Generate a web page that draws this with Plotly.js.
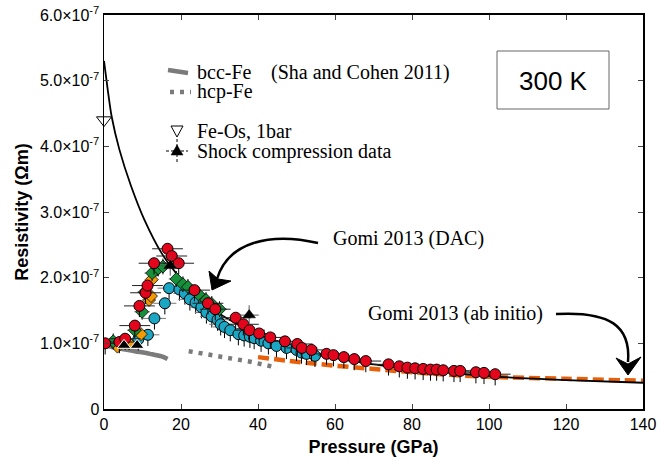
<!DOCTYPE html>
<html><head><meta charset="utf-8">
<script src="https://cdn.plot.ly/plotly-3.0.1.min.js"></script>
<style>html,body{margin:0;padding:0;background:#fff}#chart{width:658px;height:461px}</style>
</head><body><div id="chart"></div>
<script>
// Resistivity values in units of 1e-7 Ohm m, pressure in GPa
const redP = [0.3,4,5.5,8,9.2,10.8,11.3,13,16.5,17.6,19.4,23.5,27,28.9,34.2,36.2,37.8,40.3,43.2,47,50.2,51.4,53.9,57.8,59.6,62.3,65,68,73.9,76.7,78.8,80.8,82.9,84.8,86.4,88.1,90.9,92.5,96.6,98.7,101.6];
const redR = [1.0,1.02,1.07,1.27,1.57,1.77,1.88,2.22,2.44,2.33,2.22,1.81,1.61,1.52,1.39,1.29,1.2,1.15,1.09,1.03,0.99,0.93,0.9,0.84,0.82,0.79,0.76,0.73,0.68,0.65,0.63,0.62,0.61,0.6,0.6,0.59,0.58,0.58,0.56,0.55,0.53];
const cyanP = [8.9,11.4,13.1,15.8,16.9,19.6,21,22.3,23.8,25.3,26.6,28,29.5,30.3,31.3,32.8,34.9,36.4,37.9,39,40.8,42.7,44.8,47.4,50,51.3,52.6,54.8];
const cyanR = [1.06,1.13,1.38,1.61,1.84,1.82,1.76,1.67,1.62,1.55,1.47,1.41,1.36,1.29,1.25,1.2,1.14,1.12,1.1,1.08,1.04,1.0,0.96,0.93,0.9,0.86,0.84,0.81];
const greenP = [2.4,8,9.9,10.6,12.5,14.1,15.3,18.8,20.5,21.8,24.5,26.5,28,30];
const greenR = [1.03,1.2,1.48,1.78,2.07,2.14,2.17,1.98,1.9,1.86,1.75,1.66,1.6,1.52];
const orangeP = [3.5,6.5,9.6,11.7,12.2,12.4,13.7];
const orangeR = [0.95,1.0,1.14,1.66,1.72,1.97,2.12];
const shockP = [17.2,37.7];
const shockR = [2.18,1.43];
const lowTriP = [5.2,8.6];
const lowTriR = [0.97,0.97];
const feOsP = [0];
const feOsR = [4.4];
const fitP = [0,1,2,4,7,10.5,15,20,25,30,35,40,50,60,70,80,90,100,120,140];
const fitR = [5.3,4.85,4.45,3.95,3.4,2.88,2.37,1.98,1.68,1.45,1.28,1.13,0.93,0.78,0.68,0.61,0.55,0.50,0.44,0.40];
const abP = [40,50,60,70,80,90,100,120,140];
const abR = [0.79,0.72,0.66,0.61,0.56,0.52,0.49,0.46,0.43];
const bccP = [0,4,8,12,15,16.5];
const bccR = [0.97,0.92,0.88,0.84,0.8,0.76];
const hcpP = [22,30,38,45];
const hcpR = [0.88,0.8,0.72,0.63];
const yTickVals = [0,1,2,3,4,5,6];
const yTickText = ['0','1.0×10<sup>-7</sup>','2.0×10<sup>-7</sup>','3.0×10<sup>-7</sup>','4.0×10<sup>-7</sup>','5.0×10<sup>-7</sup>','6.0×10<sup>-7</sup>'];

// pixel -> paper helpers for decorations (legend, arrows)
const L=104, R=643, T=15, B=409;
const px = x => (x-L)/(R-L);
const py = y => (B-y)/(B-T);
const P = (pts) => pts.map(p=>(px(p[0])+','+py(p[1]))).join(' ');

const serif = 'Liberation Serif, Times New Roman, serif';
const sans = 'Liberation Sans, Arial, sans-serif';

const traces = [
  {x:bccP,y:bccR,mode:'lines',line:{color:'#7b7b7b',width:4.5,shape:'spline'},hoverinfo:'skip'},
  {x:hcpP,y:hcpR,mode:'lines',line:{color:'#7b7b7b',width:4.5,dash:'4px,6px'},hoverinfo:'skip'},
  {x:abP,y:abR,mode:'lines',line:{color:'#e8600c',width:4.5,dash:'11px,5px',shape:'spline'}},
  {x:fitP,y:fitR,mode:'lines',line:{color:'#000',width:1.8,shape:'spline',smoothing:0.8}},
  {x:cyanP,y:cyanR,mode:'markers',marker:{symbol:'circle',size:11,color:'#1ba6c4',line:{color:'#000',width:1}},
   error_y:{type:'data',symmetric:false,array:cyanP.map(()=>0.05),arrayminus:cyanP.map(()=>0.17),color:'#000',thickness:1,width:0},
   error_x:{type:'data',array:cyanP.map(()=>3),color:'#777',thickness:1,width:0}},
  {x:orangeP,y:orangeR,mode:'markers',marker:{symbol:'diamond',size:10,color:'#f39a00',line:{color:'#000',width:0.8}}},
  {x:greenP,y:greenR,mode:'markers',marker:{symbol:'diamond',size:10,color:'#16903a',line:{color:'#000',width:0.8}},
   error_y:{type:'data',array:greenP.map(()=>0.12),color:'#000',thickness:1,width:0},
   error_x:{type:'data',array:greenP.map(()=>2),color:'#777',thickness:1,width:0}},
  {x:redP,y:redR,mode:'markers',marker:{symbol:'circle',size:11,color:'#e3051b',line:{color:'#000',width:1}},
   error_y:{type:'data',symmetric:false,array:redP.map(()=>0.05),arrayminus:redP.map(()=>0.17),color:'#000',thickness:1,width:0},
   error_x:{type:'data',array:redP.map(()=>4),color:'#222',thickness:1,width:0}},
  {x:lowTriP,y:lowTriR,mode:'markers',marker:{symbol:'triangle-up',size:12,color:'#000',line:{color:'#fff',width:1}}},
  {x:shockP,y:shockR,mode:'markers',marker:{symbol:'triangle-up',size:11,color:'#000',line:{color:'#000',width:0.5}},
   error_y:{type:'data',array:[0.15,0.15],color:'#555',thickness:1,width:0},
   error_x:{type:'data',array:[2.5,2.5],color:'#555',thickness:1,width:0}},
  {x:feOsP,y:feOsR,mode:'markers',cliponaxis:false,marker:{symbol:'triangle-down',size:13,color:'#fff',line:{color:'#000',width:1}}}
];

const shapes = [
  // legend samples
  {type:'line',xref:'paper',yref:'paper',x0:px(168),y0:py(70),x1:px(188),y1:py(73),line:{color:'#7b7b7b',width:4.5}},
  {type:'line',xref:'paper',yref:'paper',x0:px(170),y0:py(92),x1:px(191),y1:py(92),line:{color:'#7b7b7b',width:4.5,dash:'4px,6px'}},
  {type:'path',xref:'paper',yref:'paper',path:'M'+P([[171,126]])+' L'+P([[183,126]])+' L'+P([[177,137]])+' Z',line:{color:'#000',width:1},fillcolor:'#fff'},
  {type:'line',xref:'paper',yref:'paper',x0:px(177),y0:py(139),x1:px(177),y1:py(162),line:{color:'#000',width:1,dash:'3px,2px'}},
  {type:'line',xref:'paper',yref:'paper',x0:px(166),y0:py(151),x1:px(188),y1:py(151),line:{color:'#000',width:1,dash:'3px,2px'}},
  {type:'path',xref:'paper',yref:'paper',path:'M'+P([[171,155]])+' L'+P([[183,155]])+' L'+P([[177,145]])+' Z',line:{color:'#000',width:0.5},fillcolor:'#000'},
  // 300 K box
  {type:'rect',xref:'paper',yref:'paper',x0:px(497),y0:py(51),x1:px(609),y1:py(109),line:{color:'#666',width:1}},
  // DAC arrow
  {type:'path',xref:'paper',yref:'paper',path:'M'+P([[318,243]])+' C'+P([[270,232],[228,242],[217,279]]),line:{color:'#000',width:2.5}},
  {type:'path',xref:'paper',yref:'paper',path:'M'+P([[212,290]])+' L'+P([[209,271]])+' L'+P([[218,279]])+' L'+P([[231,281]])+' Z',line:{color:'#000',width:1},fillcolor:'#000'},
  // ab initio arrow
  {type:'path',xref:'paper',yref:'paper',path:'M'+P([[556,314]])+' C'+P([[610,311],[631,326],[628,362]]),line:{color:'#000',width:2.5}},
  {type:'path',xref:'paper',yref:'paper',path:'M'+P([[628,375]])+' L'+P([[616,358]])+' L'+P([[628,364]])+' L'+P([[641,357]])+' Z',line:{color:'#000',width:1},fillcolor:'#000'}
];

const ann = (x,y,text,size,font,xanchor) => ({xref:'paper',yref:'paper',x:px(x),y:py(y),text:text,showarrow:false,xanchor:xanchor||'left',yanchor:'middle',font:{family:font,size:size,color:'#000'}});
const annotations = [
  ann(195,72,'bcc-Fe',20,serif),
  ann(269,72,'(Sha and Cohen 2011)',20,serif),
  ann(195,92,'hcp-Fe',20,serif),
  ann(195,131,'Fe-Os, 1bar',20,serif),
  ann(195,151,'Shock compression data',20,serif),
  ann(553,81,'300 K',26,sans,'center'),
  ann(331,239,'Gomi 2013 (DAC)',20,serif),
  ann(366,313,'Gomi 2013 (ab initio)',20,serif)
];

const layout = {
  width:658,height:461,
  margin:{l:L,r:658-R,t:T,b:461-B},
  paper_bgcolor:'#fff',plot_bgcolor:'#fff',
  showlegend:false,
  font:{family:sans,color:'#000'},
  xaxis:{range:[0,140],tickvals:[0,20,40,60,80,100,120,140],ticks:'inside',ticklen:5,tickwidth:1,
    showline:true,linecolor:'#000',linewidth:2,mirror:'ticks',showgrid:false,zeroline:false,
    tickfont:{family:sans,size:16},title:{text:'<b>Pressure (GPa)</b>',font:{family:sans,size:18},standoff:8}},
  yaxis:{range:[0,6],tickvals:yTickVals,ticktext:yTickText,ticks:'inside',ticklen:5,tickwidth:1,
    showline:true,linecolor:'#000',linewidth:1.5,mirror:'ticks',showgrid:false,zeroline:false,
    tickfont:{family:sans,size:16},title:{text:'<b>Resistivity (Ωm)</b>',font:{family:sans,size:18},standoff:6}},
  shapes:shapes,annotations:annotations
};
Plotly.newPlot('chart',traces,layout,{staticPlot:true,displayModeBar:false});
</script></body></html>
